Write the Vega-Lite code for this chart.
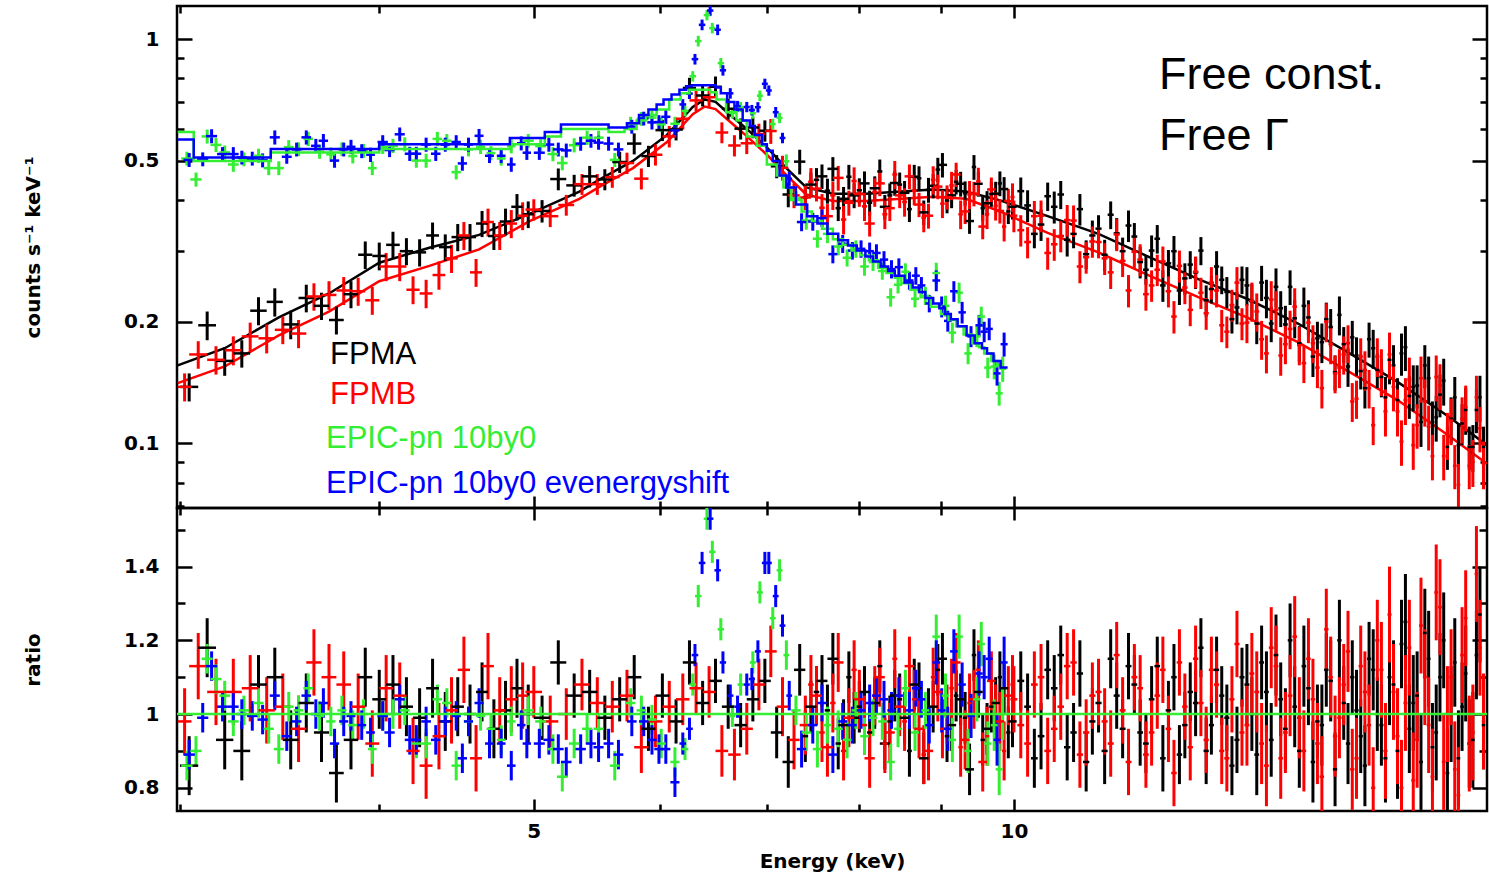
{
"$schema": "https://vega.github.io/schema/vega-lite/v6.json",
"background": "white",
"padding": {"left": 22, "top": 3, "right": 0, "bottom": 0},
"spacing": 0,
"bounds": "flush",
"config": {
  "view": {"stroke": "#000000", "strokeWidth": 2.5},
  "axis": {"domain": false, "grid": false, "labelFlush": false, "tickColor": "#000000", "tickWidth": 2.5, "labelFont": "DejaVu Sans", "labelFontWeight": "bold", "labelFontSize": 20, "labelColor": "#000000", "titleFont": "DejaVu Sans", "titleFontWeight": "bold", "titleFontSize": 20, "titleColor": "#000000"}
},
"datasets": {
"ax": [{"e": 5, "c": 0.5, "r": 1}],
"one": [{"r": 1}],
"lbl": [
 {"t": "FPMA", "s": "A", "e": 3.726, "c": 0.1654},
 {"t": "FPMB", "s": "B", "e": 3.726, "c": 0.1317},
 {"t": "EPIC-pn 10by0", "s": "G", "e": 3.704, "c": 0.1025},
 {"t": "EPIC-pn 10by0 evenergyshift", "s": "U", "e": 3.704, "c": 0.0795}
],
"lbl2": [
 {"t": "Free const.", "e": 12.33, "c": 0.816},
 {"t": "Free Γ", "e": 12.33, "c": 0.576}
],
"mdl": [
{"s":"A","e":2.99,"m":0.156},{"s":"A","e":3.2,"m":0.172},{"s":"A","e":3.46,"m":0.205},{"s":"A","e":3.72,"m":0.235},{"s":"A","e":4.0,"m":0.28},{"s":"A","e":4.3,"m":0.305},{"s":"A","e":4.62,"m":0.328},{"s":"A","e":4.97,"m":0.37},{"s":"A","e":5.34,"m":0.42},{"s":"A","e":5.5,"m":0.45},{"s":"A","e":5.77,"m":0.5},{"s":"A","e":6.06,"m":0.58},{"s":"A","e":6.29,"m":0.68},{"s":"A","e":6.4,"m":0.71},{"s":"A","e":6.5,"m":0.7},{"s":"A","e":6.61,"m":0.66},{"s":"A","e":6.8,"m":0.6},{"s":"A","e":7.0,"m":0.54},{"s":"A","e":7.2,"m":0.48},{"s":"A","e":7.41,"m":0.43},{"s":"A","e":7.7,"m":0.415},{"s":"A","e":8.08,"m":0.415},{"s":"A","e":8.5,"m":0.42},{"s":"A","e":8.9,"m":0.425},{"s":"A","e":9.33,"m":0.42},{"s":"A","e":9.79,"m":0.4},{"s":"A","e":10.5,"m":0.365},{"s":"A","e":11.3,"m":0.33},{"s":"A","e":12.14,"m":0.29},{"s":"A","e":13.05,"m":0.255},{"s":"A","e":14.0,"m":0.228},{"s":"A","e":15.07,"m":0.198},{"s":"A","e":16.2,"m":0.168},{"s":"A","e":17.4,"m":0.142},{"s":"A","e":18.7,"m":0.117},{"s":"A","e":19.8,"m":0.099},
{"s":"B","e":2.99,"m":0.141},{"s":"B","e":3.2,"m":0.155},{"s":"B","e":3.46,"m":0.185},{"s":"B","e":3.72,"m":0.212},{"s":"B","e":4.0,"m":0.252},{"s":"B","e":4.3,"m":0.275},{"s":"B","e":4.62,"m":0.302},{"s":"B","e":4.97,"m":0.355},{"s":"B","e":5.34,"m":0.403},{"s":"B","e":5.5,"m":0.432},{"s":"B","e":5.77,"m":0.48},{"s":"B","e":6.06,"m":0.557},{"s":"B","e":6.29,"m":0.653},{"s":"B","e":6.4,"m":0.682},{"s":"B","e":6.5,"m":0.672},{"s":"B","e":6.61,"m":0.634},{"s":"B","e":6.8,"m":0.576},{"s":"B","e":7.0,"m":0.518},{"s":"B","e":7.2,"m":0.461},{"s":"B","e":7.41,"m":0.413},{"s":"B","e":7.7,"m":0.398},{"s":"B","e":8.08,"m":0.398},{"s":"B","e":8.5,"m":0.403},{"s":"B","e":8.9,"m":0.408},{"s":"B","e":9.33,"m":0.403},{"s":"B","e":9.79,"m":0.376},{"s":"B","e":10.5,"m":0.332},{"s":"B","e":11.3,"m":0.297},{"s":"B","e":12.14,"m":0.261},{"s":"B","e":13.05,"m":0.23},{"s":"B","e":14.0,"m":0.205},{"s":"B","e":15.07,"m":0.178},{"s":"B","e":16.2,"m":0.151},{"s":"B","e":17.4,"m":0.128},{"s":"B","e":18.7,"m":0.105},{"s":"B","e":19.8,"m":0.089},
{"s":"G","e":2.99,"m":0.59},{"s":"G","e":3.06,"m":0.5},{"s":"G","e":3.42,"m":0.525},{"s":"G","e":4.0,"m":0.535},{"s":"G","e":4.83,"m":0.55},{"s":"G","e":5.08,"m":0.575},{"s":"G","e":5.2,"m":0.6},{"s":"G","e":5.57,"m":0.59},{"s":"G","e":5.7,"m":0.6},{"s":"G","e":5.8,"m":0.63},{"s":"G","e":5.88,"m":0.65},{"s":"G","e":5.97,"m":0.67},{"s":"G","e":6.08,"m":0.71},{"s":"G","e":6.18,"m":0.735},{"s":"G","e":6.26,"m":0.75},{"s":"G","e":6.45,"m":0.74},{"s":"G","e":6.51,"m":0.71},{"s":"G","e":6.6,"m":0.66},{"s":"G","e":6.7,"m":0.63},{"s":"G","e":6.8,"m":0.575},{"s":"G","e":6.9,"m":0.545},{"s":"G","e":7.0,"m":0.49},{"s":"G","e":7.1,"m":0.46},{"s":"G","e":7.17,"m":0.43},{"s":"G","e":7.25,"m":0.4},{"s":"G","e":7.36,"m":0.375},{"s":"G","e":7.47,"m":0.355},{"s":"G","e":7.58,"m":0.34},{"s":"G","e":7.7,"m":0.32},{"s":"G","e":7.81,"m":0.31},{"s":"G","e":7.91,"m":0.3},{"s":"G","e":8.01,"m":0.292},{"s":"G","e":8.11,"m":0.284},{"s":"G","e":8.22,"m":0.272},{"s":"G","e":8.32,"m":0.264},{"s":"G","e":8.42,"m":0.257},{"s":"G","e":8.5,"m":0.249},{"s":"G","e":8.61,"m":0.24},{"s":"G","e":8.74,"m":0.23},{"s":"G","e":8.87,"m":0.218},{"s":"G","e":9.0,"m":0.209},{"s":"G","e":9.1,"m":0.202},{"s":"G","e":9.2,"m":0.195},{"s":"G","e":9.3,"m":0.186},{"s":"G","e":9.42,"m":0.177},{"s":"G","e":9.51,"m":0.173},{"s":"G","e":9.58,"m":0.167},{"s":"G","e":9.68,"m":0.16},{"s":"G","e":9.76,"m":0.156},{"s":"G","e":9.82,"m":0.153},{"s":"G","e":9.88,"m":0.153},
{"s":"U","e":2.99,"m":0.565},{"s":"U","e":3.06,"m":0.51},{"s":"U","e":3.42,"m":0.535},{"s":"U","e":4.0,"m":0.55},{"s":"U","e":4.83,"m":0.57},{"s":"U","e":5.08,"m":0.59},{"s":"U","e":5.2,"m":0.615},{"s":"U","e":5.57,"m":0.605},{"s":"U","e":5.72,"m":0.62},{"s":"U","e":5.82,"m":0.65},{"s":"U","e":5.9,"m":0.67},{"s":"U","e":5.97,"m":0.69},{"s":"U","e":6.03,"m":0.71},{"s":"U","e":6.1,"m":0.73},{"s":"U","e":6.17,"m":0.75},{"s":"U","e":6.23,"m":0.765},{"s":"U","e":6.28,"m":0.77},{"s":"U","e":6.5,"m":0.76},{"s":"U","e":6.55,"m":0.735},{"s":"U","e":6.61,"m":0.7},{"s":"U","e":6.68,"m":0.67},{"s":"U","e":6.76,"m":0.63},{"s":"U","e":6.83,"m":0.61},{"s":"U","e":6.88,"m":0.58},{"s":"U","e":6.95,"m":0.55},{"s":"U","e":7.0,"m":0.53},{"s":"U","e":7.06,"m":0.5},{"s":"U","e":7.13,"m":0.46},{"s":"U","e":7.2,"m":0.43},{"s":"U","e":7.3,"m":0.39},{"s":"U","e":7.42,"m":0.365},{"s":"U","e":7.53,"m":0.35},{"s":"U","e":7.64,"m":0.33},{"s":"U","e":7.76,"m":0.318},{"s":"U","e":7.87,"m":0.309},{"s":"U","e":7.97,"m":0.3},{"s":"U","e":8.07,"m":0.29},{"s":"U","e":8.16,"m":0.282},{"s":"U","e":8.25,"m":0.274},{"s":"U","e":8.34,"m":0.267},{"s":"U","e":8.42,"m":0.26},{"s":"U","e":8.54,"m":0.25},{"s":"U","e":8.64,"m":0.243},{"s":"U","e":8.72,"m":0.237},{"s":"U","e":8.8,"m":0.229},{"s":"U","e":8.9,"m":0.222},{"s":"U","e":8.98,"m":0.216},{"s":"U","e":9.05,"m":0.209},{"s":"U","e":9.13,"m":0.203},{"s":"U","e":9.22,"m":0.195},{"s":"U","e":9.34,"m":0.185},{"s":"U","e":9.45,"m":0.177},{"s":"U","e":9.55,"m":0.172},{"s":"U","e":9.62,"m":0.167},{"s":"U","e":9.71,"m":0.16},{"s":"U","e":9.81,"m":0.154},{"s":"U","e":9.91,"m":0.154}
],
"pts": [
{"s":"A","e":3.04,"w":0.04,"c":0.138,"d":0.011,"r":0.86,"q":0.08},
{"s":"A","e":3.12,"w":0.04,"c":0.196,"d":0.016,"r":1.18,"q":0.08},
{"s":"A","e":3.2,"w":0.04,"c":0.16,"d":0.013,"r":0.93,"q":0.08},
{"s":"A","e":3.28,"w":0.04,"c":0.167,"d":0.013,"r":0.9,"q":0.08},
{"s":"A","e":3.36,"w":0.04,"c":0.213,"d":0.017,"r":1.08,"q":0.08},
{"s":"A","e":3.44,"w":0.04,"c":0.224,"d":0.018,"r":1.1,"q":0.08},
{"s":"A","e":3.52,"w":0.04,"c":0.197,"d":0.016,"r":0.93,"q":0.08},
{"s":"A","e":3.6,"w":0.04,"c":0.229,"d":0.018,"r":1.03,"q":0.08},
{"s":"A","e":3.68,"w":0.04,"c":0.219,"d":0.017,"r":0.95,"q":0.08},
{"s":"A","e":3.76,"w":0.04,"c":0.202,"d":0.016,"r":0.84,"q":0.08},
{"s":"A","e":3.84,"w":0.04,"c":0.234,"d":0.018,"r":0.93,"q":0.08},
{"s":"A","e":3.92,"w":0.04,"c":0.293,"d":0.023,"r":1.1,"q":0.08},
{"s":"A","e":4.0,"w":0.04,"c":0.291,"d":0.023,"r":1.04,"q":0.08},
{"s":"A","e":4.08,"w":0.04,"c":0.31,"d":0.024,"r":1.08,"q":0.08},
{"s":"A","e":4.16,"w":0.04,"c":0.299,"d":0.023,"r":1.02,"q":0.08},
{"s":"A","e":4.24,"w":0.04,"c":0.297,"d":0.023,"r":0.99,"q":0.08},
{"s":"A","e":4.32,"w":0.04,"c":0.327,"d":0.025,"r":1.07,"q":0.08},
{"s":"A","e":4.4,"w":0.04,"c":0.306,"d":0.023,"r":0.98,"q":0.08},
{"s":"A","e":4.48,"w":0.04,"c":0.324,"d":0.025,"r":1.02,"q":0.08},
{"s":"A","e":4.56,"w":0.04,"c":0.324,"d":0.025,"r":1.0,"q":0.08},
{"s":"A","e":4.64,"w":0.04,"c":0.35,"d":0.026,"r":1.06,"q":0.08},
{"s":"A","e":4.72,"w":0.04,"c":0.326,"d":0.025,"r":0.96,"q":0.08},
{"s":"A","e":4.8,"w":0.04,"c":0.354,"d":0.027,"r":1.01,"q":0.08},
{"s":"A","e":4.88,"w":0.04,"c":0.385,"d":0.029,"r":1.07,"q":0.08},
{"s":"A","e":4.96,"w":0.04,"c":0.369,"d":0.028,"r":1.0,"q":0.08},
{"s":"A","e":5.06,"w":0.06,"c":0.376,"d":0.024,"r":0.99,"q":0.06},
{"s":"A","e":5.18,"w":0.06,"c":0.451,"d":0.028,"r":1.14,"q":0.06},
{"s":"A","e":5.3,"w":0.06,"c":0.435,"d":0.027,"r":1.05,"q":0.06},
{"s":"A","e":5.42,"w":0.06,"c":0.458,"d":0.028,"r":1.06,"q":0.06},
{"s":"A","e":5.54,"w":0.06,"c":0.45,"d":0.027,"r":0.99,"q":0.06},
{"s":"A","e":5.66,"w":0.06,"c":0.497,"d":0.03,"r":1.04,"q":0.06},
{"s":"A","e":5.78,"w":0.06,"c":0.552,"d":0.033,"r":1.1,"q":0.06},
{"s":"A","e":5.9,"w":0.06,"c":0.514,"d":0.031,"r":0.96,"q":0.06},
{"s":"A","e":6.02,"w":0.06,"c":0.596,"d":0.036,"r":1.05,"q":0.06},
{"s":"A","e":6.14,"w":0.06,"c":0.598,"d":0.036,"r":0.98,"q":0.06},
{"s":"A","e":6.26,"w":0.06,"c":0.758,"d":0.045,"r":1.14,"q":0.06},
{"s":"A","e":6.38,"w":0.06,"c":0.726,"d":0.044,"r":1.03,"q":0.06},
{"s":"A","e":6.5,"w":0.06,"c":0.763,"d":0.046,"r":1.09,"q":0.06},
{"s":"A","e":6.62,"w":0.06,"c":0.673,"d":0.04,"r":1.02,"q":0.06},
{"s":"A","e":6.74,"w":0.06,"c":0.601,"d":0.036,"r":0.97,"q":0.06},
{"s":"A","e":6.86,"w":0.06,"c":0.605,"d":0.036,"r":1.04,"q":0.06},
{"s":"A","e":6.98,"w":0.06,"c":0.594,"d":0.036,"r":1.09,"q":0.06},
{"s":"A","e":7.1,"w":0.06,"c":0.485,"d":0.032,"r":0.95,"q":0.07},
{"s":"A","e":7.22,"w":0.06,"c":0.413,"d":0.029,"r":0.87,"q":0.07},
{"s":"A","e":7.34,"w":0.06,"c":0.498,"d":0.035,"r":1.12,"q":0.07},
{"s":"A","e":7.46,"w":0.06,"c":0.437,"d":0.031,"r":1.02,"q":0.07},
{"s":"A","e":7.58,"w":0.06,"c":0.458,"d":0.032,"r":1.09,"q":0.07},
{"s":"A","e":7.7,"w":0.06,"c":0.478,"d":0.033,"r":1.15,"q":0.07},
{"s":"A","e":7.82,"w":0.06,"c":0.403,"d":0.028,"r":0.97,"q":0.07},
{"s":"A","e":7.94,"w":0.06,"c":0.411,"d":0.029,"r":0.99,"q":0.07},
{"s":"A","e":8.06,"w":0.06,"c":0.44,"d":0.031,"r":1.06,"q":0.07},
{"s":"A","e":8.18,"w":0.06,"c":0.428,"d":0.03,"r":1.03,"q":0.07},
{"s":"A","e":8.3,"w":0.06,"c":0.385,"d":0.027,"r":0.92,"q":0.07},
{"s":"A","e":8.42,"w":0.06,"c":0.441,"d":0.031,"r":1.05,"q":0.07},
{"s":"A","e":8.54,"w":0.06,"c":0.417,"d":0.029,"r":0.99,"q":0.07},
{"s":"A","e":8.66,"w":0.06,"c":0.457,"d":0.032,"r":1.08,"q":0.07},
{"s":"A","e":8.78,"w":0.06,"c":0.373,"d":0.026,"r":0.88,"q":0.07},
{"s":"A","e":8.9,"w":0.06,"c":0.434,"d":0.03,"r":1.02,"q":0.07},
{"s":"A","e":9.02,"w":0.06,"c":0.489,"d":0.034,"r":1.15,"q":0.07},
{"s":"A","e":9.14,"w":0.06,"c":0.411,"d":0.029,"r":0.97,"q":0.07},
{"s":"A","e":9.26,"w":0.06,"c":0.439,"d":0.031,"r":1.04,"q":0.07},
{"s":"A","e":9.38,"w":0.06,"c":0.355,"d":0.025,"r":0.85,"q":0.07},
{"s":"A","e":9.5,"w":0.06,"c":0.439,"d":0.031,"r":1.06,"q":0.07},
{"s":"A","e":9.62,"w":0.06,"c":0.393,"d":0.028,"r":0.96,"q":0.07},
{"s":"A","e":9.74,"w":0.06,"c":0.415,"d":0.029,"r":1.03,"q":0.07},
{"s":"A","e":9.86,"w":0.06,"c":0.426,"d":0.03,"r":1.07,"q":0.07},
{"s":"A","e":9.98,"w":0.06,"c":0.385,"d":0.027,"r":0.98,"q":0.07},
{"s":"A","e":7.4,"w":0.03,"c":0.406,"d":0.028,"r":0.94,"q":0.07},
{"s":"A","e":7.52,"w":0.03,"c":0.449,"d":0.031,"r":1.06,"q":0.07},
{"s":"A","e":7.64,"w":0.03,"c":0.422,"d":0.03,"r":1.01,"q":0.07},
{"s":"A","e":7.76,"w":0.03,"c":0.382,"d":0.027,"r":0.92,"q":0.07},
{"s":"A","e":7.88,"w":0.03,"c":0.457,"d":0.032,"r":1.1,"q":0.07},
{"s":"A","e":8.0,"w":0.03,"c":0.423,"d":0.03,"r":1.02,"q":0.07},
{"s":"A","e":8.12,"w":0.03,"c":0.394,"d":0.028,"r":0.95,"q":0.07},
{"s":"A","e":8.24,"w":0.03,"c":0.471,"d":0.033,"r":1.13,"q":0.07},
{"s":"A","e":8.36,"w":0.03,"c":0.411,"d":0.029,"r":0.98,"q":0.07},
{"s":"A","e":8.48,"w":0.03,"c":0.437,"d":0.031,"r":1.04,"q":0.07},
{"s":"A","e":8.6,"w":0.03,"c":0.38,"d":0.027,"r":0.9,"q":0.07},
{"s":"A","e":8.72,"w":0.03,"c":0.453,"d":0.032,"r":1.07,"q":0.07},
{"s":"A","e":8.84,"w":0.03,"c":0.424,"d":0.03,"r":1.0,"q":0.07},
{"s":"A","e":8.96,"w":0.03,"c":0.476,"d":0.033,"r":1.12,"q":0.07},
{"s":"A","e":9.08,"w":0.03,"c":0.399,"d":0.028,"r":0.94,"q":0.07},
{"s":"A","e":9.2,"w":0.03,"c":0.444,"d":0.031,"r":1.05,"q":0.07},
{"s":"A","e":9.32,"w":0.03,"c":0.416,"d":0.029,"r":0.99,"q":0.07},
{"s":"A","e":9.44,"w":0.03,"c":0.483,"d":0.034,"r":1.16,"q":0.07},
{"s":"A","e":9.56,"w":0.03,"c":0.382,"d":0.027,"r":0.93,"q":0.07},
{"s":"A","e":9.68,"w":0.03,"c":0.414,"d":0.029,"r":1.02,"q":0.07},
{"s":"A","e":9.8,"w":0.03,"c":0.44,"d":0.031,"r":1.1,"q":0.07},
{"s":"A","e":9.92,"w":0.03,"c":0.375,"d":0.026,"r":0.95,"q":0.07},
{"s":"A","e":10.1,"w":0.05,"c":0.421,"d":0.034,"r":1.09,"q":0.08},
{"s":"A","e":10.3,"w":0.05,"c":0.33,"d":0.026,"r":0.88,"q":0.08},
{"s":"A","e":10.5,"w":0.05,"c":0.409,"d":0.033,"r":1.12,"q":0.08},
{"s":"A","e":10.7,"w":0.05,"c":0.413,"d":0.033,"r":1.16,"q":0.08},
{"s":"A","e":10.9,"w":0.05,"c":0.33,"d":0.026,"r":0.95,"q":0.08},
{"s":"A","e":11.1,"w":0.05,"c":0.294,"d":0.024,"r":0.87,"q":0.08},
{"s":"A","e":11.3,"w":0.05,"c":0.34,"d":0.027,"r":1.03,"q":0.08},
{"s":"A","e":11.5,"w":0.05,"c":0.368,"d":0.029,"r":1.15,"q":0.08},
{"s":"A","e":11.7,"w":0.05,"c":0.299,"d":0.024,"r":0.96,"q":0.08},
{"s":"A","e":11.9,"w":0.05,"c":0.325,"d":0.026,"r":1.08,"q":0.08},
{"s":"A","e":12.1,"w":0.05,"c":0.269,"d":0.022,"r":0.92,"q":0.08},
{"s":"A","e":12.3,"w":0.05,"c":0.321,"d":0.026,"r":1.13,"q":0.08},
{"s":"A","e":12.5,"w":0.05,"c":0.279,"d":0.022,"r":1.01,"q":0.08},
{"s":"A","e":12.7,"w":0.05,"c":0.239,"d":0.019,"r":0.89,"q":0.08},
{"s":"A","e":12.9,"w":0.05,"c":0.277,"d":0.022,"r":1.06,"q":0.08},
{"s":"A","e":13.1,"w":0.05,"c":0.3,"d":0.024,"r":1.18,"q":0.08},
{"s":"A","e":13.3,"w":0.05,"c":0.241,"d":0.019,"r":0.97,"q":0.08},
{"s":"A","e":13.5,"w":0.05,"c":0.254,"d":0.02,"r":1.05,"q":0.08},
{"s":"A","e":13.7,"w":0.05,"c":0.203,"d":0.016,"r":0.86,"q":0.08},
{"s":"A","e":13.9,"w":0.05,"c":0.254,"d":0.02,"r":1.1,"q":0.08},
{"s":"A","e":14.1,"w":0.05,"c":0.225,"d":0.023,"r":1.0,"q":0.1},
{"s":"A","e":14.3,"w":0.05,"c":0.25,"d":0.025,"r":1.14,"q":0.1},
{"s":"A","e":14.5,"w":0.05,"c":0.198,"d":0.02,"r":0.93,"q":0.1},
{"s":"A","e":14.7,"w":0.05,"c":0.216,"d":0.022,"r":1.04,"q":0.1},
{"s":"A","e":14.9,"w":0.05,"c":0.244,"d":0.024,"r":1.2,"q":0.1},
{"s":"A","e":15.1,"w":0.05,"c":0.177,"d":0.018,"r":0.9,"q":0.1},
{"s":"A","e":15.3,"w":0.05,"c":0.205,"d":0.021,"r":1.07,"q":0.1},
{"s":"A","e":15.5,"w":0.05,"c":0.182,"d":0.018,"r":0.98,"q":0.1},
{"s":"A","e":15.7,"w":0.05,"c":0.203,"d":0.02,"r":1.12,"q":0.1},
{"s":"A","e":15.9,"w":0.05,"c":0.15,"d":0.015,"r":0.85,"q":0.1},
{"s":"A","e":16.1,"w":0.05,"c":0.176,"d":0.018,"r":1.03,"q":0.1},
{"s":"A","e":16.3,"w":0.05,"c":0.183,"d":0.018,"r":1.1,"q":0.1},
{"s":"A","e":16.5,"w":0.05,"c":0.151,"d":0.015,"r":0.94,"q":0.1},
{"s":"A","e":16.7,"w":0.05,"c":0.181,"d":0.018,"r":1.15,"q":0.1},
{"s":"A","e":16.9,"w":0.05,"c":0.152,"d":0.015,"r":1.0,"q":0.1},
{"s":"A","e":17.1,"w":0.05,"c":0.13,"d":0.016,"r":0.88,"q":0.12},
{"s":"A","e":17.3,"w":0.05,"c":0.156,"d":0.019,"r":1.08,"q":0.12},
{"s":"A","e":17.5,"w":0.05,"c":0.167,"d":0.02,"r":1.19,"q":0.12},
{"s":"A","e":17.7,"w":0.05,"c":0.131,"d":0.016,"r":0.96,"q":0.12},
{"s":"A","e":17.9,"w":0.05,"c":0.139,"d":0.017,"r":1.05,"q":0.12},
{"s":"A","e":18.1,"w":0.05,"c":0.156,"d":0.019,"r":1.22,"q":0.12},
{"s":"A","e":18.3,"w":0.05,"c":0.113,"d":0.014,"r":0.91,"q":0.12},
{"s":"A","e":18.5,"w":0.05,"c":0.132,"d":0.016,"r":1.1,"q":0.12},
{"s":"A","e":18.7,"w":0.05,"c":0.098,"d":0.012,"r":0.84,"q":0.12},
{"s":"A","e":18.9,"w":0.05,"c":0.13,"d":0.016,"r":1.14,"q":0.12},
{"s":"A","e":19.1,"w":0.05,"c":0.112,"d":0.013,"r":1.02,"q":0.12},
{"s":"A","e":19.3,"w":0.05,"c":0.098,"d":0.012,"r":0.92,"q":0.12},
{"s":"A","e":19.5,"w":0.05,"c":0.121,"d":0.015,"r":1.16,"q":0.12},
{"s":"A","e":19.7,"w":0.05,"c":0.098,"d":0.012,"r":0.97,"q":0.12},
{"s":"A","e":10.2,"w":0.05,"c":0.388,"d":0.035,"r":1.02,"q":0.09},
{"s":"A","e":10.4,"w":0.05,"c":0.348,"d":0.031,"r":0.94,"q":0.09},
{"s":"A","e":10.6,"w":0.05,"c":0.385,"d":0.035,"r":1.07,"q":0.09},
{"s":"A","e":10.8,"w":0.05,"c":0.319,"d":0.029,"r":0.91,"q":0.09},
{"s":"A","e":11.0,"w":0.05,"c":0.38,"d":0.034,"r":1.11,"q":0.09},
{"s":"A","e":11.2,"w":0.05,"c":0.327,"d":0.029,"r":0.98,"q":0.09},
{"s":"A","e":11.4,"w":0.05,"c":0.293,"d":0.026,"r":0.9,"q":0.09},
{"s":"A","e":11.6,"w":0.05,"c":0.331,"d":0.03,"r":1.05,"q":0.09},
{"s":"A","e":11.8,"w":0.05,"c":0.346,"d":0.031,"r":1.13,"q":0.09},
{"s":"A","e":12.0,"w":0.05,"c":0.281,"d":0.025,"r":0.95,"q":0.09},
{"s":"A","e":12.2,"w":0.05,"c":0.3,"d":0.027,"r":1.04,"q":0.09},
{"s":"A","e":12.4,"w":0.05,"c":0.246,"d":0.022,"r":0.88,"q":0.09},
{"s":"A","e":12.6,"w":0.05,"c":0.299,"d":0.027,"r":1.1,"q":0.09},
{"s":"A","e":12.8,"w":0.05,"c":0.256,"d":0.023,"r":0.97,"q":0.09},
{"s":"A","e":13.0,"w":0.05,"c":0.265,"d":0.024,"r":1.03,"q":0.09},
{"s":"A","e":13.2,"w":0.05,"c":0.226,"d":0.02,"r":0.9,"q":0.09},
{"s":"A","e":13.4,"w":0.05,"c":0.274,"d":0.025,"r":1.12,"q":0.09},
{"s":"A","e":13.6,"w":0.05,"c":0.237,"d":0.021,"r":0.99,"q":0.09},
{"s":"A","e":13.8,"w":0.05,"c":0.217,"d":0.02,"r":0.93,"q":0.09},
{"s":"A","e":14.0,"w":0.05,"c":0.246,"d":0.027,"r":1.08,"q":0.11},
{"s":"A","e":14.2,"w":0.05,"c":0.198,"d":0.022,"r":0.89,"q":0.11},
{"s":"A","e":14.4,"w":0.05,"c":0.229,"d":0.025,"r":1.06,"q":0.11},
{"s":"A","e":14.6,"w":0.05,"c":0.244,"d":0.027,"r":1.16,"q":0.11},
{"s":"A","e":14.8,"w":0.05,"c":0.197,"d":0.022,"r":0.96,"q":0.11},
{"s":"A","e":15.0,"w":0.05,"c":0.204,"d":0.022,"r":1.02,"q":0.11},
{"s":"A","e":15.2,"w":0.05,"c":0.219,"d":0.024,"r":1.13,"q":0.11},
{"s":"A","e":15.4,"w":0.05,"c":0.164,"d":0.018,"r":0.87,"q":0.11},
{"s":"A","e":15.6,"w":0.05,"c":0.178,"d":0.02,"r":0.97,"q":0.11},
{"s":"A","e":15.8,"w":0.05,"c":0.194,"d":0.021,"r":1.09,"q":0.11},
{"s":"A","e":16.0,"w":0.05,"c":0.208,"d":0.023,"r":1.2,"q":0.11},
{"s":"A","e":16.2,"w":0.05,"c":0.155,"d":0.017,"r":0.92,"q":0.11},
{"s":"A","e":16.4,"w":0.05,"c":0.165,"d":0.018,"r":1.01,"q":0.11},
{"s":"A","e":16.6,"w":0.05,"c":0.137,"d":0.015,"r":0.86,"q":0.11},
{"s":"A","e":16.8,"w":0.05,"c":0.172,"d":0.019,"r":1.12,"q":0.11},
{"s":"A","e":17.0,"w":0.05,"c":0.146,"d":0.016,"r":0.97,"q":0.11},
{"s":"A","e":17.2,"w":0.05,"c":0.161,"d":0.021,"r":1.1,"q":0.13},
{"s":"A","e":17.4,"w":0.05,"c":0.128,"d":0.017,"r":0.9,"q":0.13},
{"s":"A","e":17.6,"w":0.05,"c":0.173,"d":0.022,"r":1.25,"q":0.13},
{"s":"A","e":17.8,"w":0.05,"c":0.138,"d":0.018,"r":1.03,"q":0.13},
{"s":"A","e":18.0,"w":0.05,"c":0.113,"d":0.015,"r":0.87,"q":0.13},
{"s":"A","e":18.2,"w":0.05,"c":0.145,"d":0.019,"r":1.15,"q":0.13},
{"s":"A","e":18.4,"w":0.05,"c":0.116,"d":0.015,"r":0.95,"q":0.13},
{"s":"A","e":18.6,"w":0.05,"c":0.143,"d":0.019,"r":1.2,"q":0.13},
{"s":"A","e":18.8,"w":0.05,"c":0.115,"d":0.015,"r":1.0,"q":0.13},
{"s":"A","e":19.0,"w":0.05,"c":0.099,"d":0.013,"r":0.88,"q":0.13},
{"s":"A","e":19.2,"w":0.05,"c":0.121,"d":0.016,"r":1.11,"q":0.13},
{"s":"A","e":19.4,"w":0.05,"c":0.098,"d":0.013,"r":0.93,"q":0.13},
{"s":"A","e":19.6,"w":0.05,"c":0.13,"d":0.017,"r":1.27,"q":0.13},
{"s":"B","e":3.02,"w":0.03,"c":0.138,"d":0.011,"r":0.98,"q":0.09},
{"s":"B","e":3.08,"w":0.04,"c":0.166,"d":0.013,"r":1.13,"q":0.09},
{"s":"B","e":3.16,"w":0.04,"c":0.161,"d":0.013,"r":1.06,"q":0.09},
{"s":"B","e":3.24,"w":0.04,"c":0.17,"d":0.014,"r":1.06,"q":0.09},
{"s":"B","e":3.32,"w":0.04,"c":0.184,"d":0.015,"r":1.07,"q":0.09},
{"s":"B","e":3.4,"w":0.04,"c":0.182,"d":0.015,"r":1.01,"q":0.09},
{"s":"B","e":3.48,"w":0.04,"c":0.191,"d":0.015,"r":1.02,"q":0.09},
{"s":"B","e":3.56,"w":0.04,"c":0.187,"d":0.015,"r":0.96,"q":0.09},
{"s":"B","e":3.64,"w":0.04,"c":0.231,"d":0.018,"r":1.14,"q":0.09},
{"s":"B","e":3.72,"w":0.04,"c":0.233,"d":0.019,"r":1.1,"q":0.09},
{"s":"B","e":3.8,"w":0.04,"c":0.239,"d":0.019,"r":1.08,"q":0.09},
{"s":"B","e":3.88,"w":0.04,"c":0.238,"d":0.019,"r":1.02,"q":0.09},
{"s":"B","e":3.96,"w":0.04,"c":0.226,"d":0.018,"r":0.92,"q":0.09},
{"s":"B","e":4.04,"w":0.04,"c":0.274,"d":0.022,"r":1.07,"q":0.09},
{"s":"B","e":4.12,"w":0.04,"c":0.274,"d":0.022,"r":1.05,"q":0.09},
{"s":"B","e":4.2,"w":0.04,"c":0.24,"d":0.019,"r":0.9,"q":0.09},
{"s":"B","e":4.28,"w":0.04,"c":0.235,"d":0.019,"r":0.86,"q":0.09},
{"s":"B","e":4.36,"w":0.04,"c":0.261,"d":0.021,"r":0.94,"q":0.09},
{"s":"B","e":4.44,"w":0.04,"c":0.287,"d":0.023,"r":1.01,"q":0.09},
{"s":"B","e":4.52,"w":0.04,"c":0.327,"d":0.026,"r":1.12,"q":0.09},
{"s":"B","e":4.6,"w":0.04,"c":0.265,"d":0.021,"r":0.88,"q":0.09},
{"s":"B","e":4.68,"w":0.04,"c":0.353,"d":0.028,"r":1.13,"q":0.09},
{"s":"B","e":4.76,"w":0.04,"c":0.327,"d":0.026,"r":1.01,"q":0.09},
{"s":"B","e":4.84,"w":0.04,"c":0.35,"d":0.028,"r":1.04,"q":0.09},
{"s":"B","e":4.92,"w":0.04,"c":0.366,"d":0.029,"r":1.05,"q":0.09},
{"s":"B","e":5.0,"w":0.06,"c":0.379,"d":0.023,"r":1.06,"q":0.07},
{"s":"B","e":5.12,"w":0.06,"c":0.365,"d":0.022,"r":0.98,"q":0.07},
{"s":"B","e":5.24,"w":0.06,"c":0.389,"d":0.023,"r":1.0,"q":0.07},
{"s":"B","e":5.36,"w":0.06,"c":0.438,"d":0.026,"r":1.08,"q":0.07},
{"s":"B","e":5.48,"w":0.06,"c":0.438,"d":0.026,"r":1.03,"q":0.07},
{"s":"B","e":5.6,"w":0.06,"c":0.456,"d":0.027,"r":1.02,"q":0.07},
{"s":"B","e":5.72,"w":0.06,"c":0.494,"d":0.03,"r":1.05,"q":0.07},
{"s":"B","e":5.84,"w":0.06,"c":0.452,"d":0.027,"r":0.91,"q":0.07},
{"s":"B","e":5.96,"w":0.06,"c":0.518,"d":0.031,"r":0.98,"q":0.07},
{"s":"B","e":6.08,"w":0.06,"c":0.575,"d":0.035,"r":1.02,"q":0.07},
{"s":"B","e":6.2,"w":0.06,"c":0.636,"d":0.038,"r":1.04,"q":0.07},
{"s":"B","e":6.32,"w":0.06,"c":0.706,"d":0.042,"r":1.07,"q":0.07},
{"s":"B","e":6.44,"w":0.06,"c":0.719,"d":0.043,"r":1.06,"q":0.07},
{"s":"B","e":6.56,"w":0.06,"c":0.588,"d":0.035,"r":0.9,"q":0.07},
{"s":"B","e":6.68,"w":0.06,"c":0.546,"d":0.033,"r":0.89,"q":0.07},
{"s":"B","e":6.8,"w":0.06,"c":0.553,"d":0.033,"r":0.96,"q":0.07},
{"s":"B","e":6.92,"w":0.06,"c":0.583,"d":0.035,"r":1.08,"q":0.07},
{"s":"B","e":7.04,"w":0.06,"c":0.593,"d":0.042,"r":1.17,"q":0.07},
{"s":"B","e":7.16,"w":0.06,"c":0.481,"d":0.034,"r":1.02,"q":0.08},
{"s":"B","e":7.28,"w":0.06,"c":0.411,"d":0.029,"r":0.93,"q":0.08},
{"s":"B","e":7.4,"w":0.06,"c":0.406,"d":0.028,"r":0.97,"q":0.08},
{"s":"B","e":7.52,"w":0.06,"c":0.427,"d":0.03,"r":1.05,"q":0.08},
{"s":"B","e":7.64,"w":0.06,"c":0.365,"d":0.026,"r":0.91,"q":0.08},
{"s":"B","e":7.76,"w":0.06,"c":0.454,"d":0.032,"r":1.14,"q":0.08},
{"s":"B","e":7.88,"w":0.06,"c":0.394,"d":0.028,"r":0.99,"q":0.08},
{"s":"B","e":8.0,"w":0.06,"c":0.414,"d":0.029,"r":1.04,"q":0.08},
{"s":"B","e":8.12,"w":0.06,"c":0.35,"d":0.025,"r":0.88,"q":0.08},
{"s":"B","e":8.24,"w":0.06,"c":0.44,"d":0.031,"r":1.1,"q":0.08},
{"s":"B","e":8.36,"w":0.06,"c":0.382,"d":0.027,"r":0.95,"q":0.08},
{"s":"B","e":8.48,"w":0.06,"c":0.411,"d":0.029,"r":1.02,"q":0.08},
{"s":"B","e":8.6,"w":0.06,"c":0.458,"d":0.032,"r":1.13,"q":0.08},
{"s":"B","e":8.72,"w":0.06,"c":0.39,"d":0.027,"r":0.96,"q":0.08},
{"s":"B","e":8.84,"w":0.06,"c":0.366,"d":0.026,"r":0.9,"q":0.08},
{"s":"B","e":8.96,"w":0.06,"c":0.432,"d":0.03,"r":1.06,"q":0.08},
{"s":"B","e":9.08,"w":0.06,"c":0.407,"d":0.028,"r":1.0,"q":0.08},
{"s":"B","e":9.2,"w":0.06,"c":0.463,"d":0.032,"r":1.14,"q":0.08},
{"s":"B","e":9.32,"w":0.06,"c":0.375,"d":0.026,"r":0.93,"q":0.08},
{"s":"B","e":9.44,"w":0.06,"c":0.415,"d":0.029,"r":1.04,"q":0.08},
{"s":"B","e":9.56,"w":0.06,"c":0.344,"d":0.024,"r":0.87,"q":0.08},
{"s":"B","e":9.68,"w":0.06,"c":0.425,"d":0.03,"r":1.09,"q":0.08},
{"s":"B","e":9.8,"w":0.06,"c":0.376,"d":0.026,"r":0.98,"q":0.08},
{"s":"B","e":9.92,"w":0.06,"c":0.398,"d":0.028,"r":1.05,"q":0.08},
{"s":"B","e":7.46,"w":0.03,"c":0.444,"d":0.036,"r":1.08,"q":0.08},
{"s":"B","e":7.58,"w":0.03,"c":0.383,"d":0.031,"r":0.95,"q":0.08},
{"s":"B","e":7.7,"w":0.03,"c":0.411,"d":0.033,"r":1.03,"q":0.08},
{"s":"B","e":7.82,"w":0.03,"c":0.358,"d":0.029,"r":0.9,"q":0.08},
{"s":"B","e":7.94,"w":0.03,"c":0.446,"d":0.036,"r":1.12,"q":0.08},
{"s":"B","e":8.06,"w":0.03,"c":0.386,"d":0.031,"r":0.97,"q":0.08},
{"s":"B","e":8.18,"w":0.03,"c":0.419,"d":0.034,"r":1.05,"q":0.08},
{"s":"B","e":8.3,"w":0.03,"c":0.369,"d":0.03,"r":0.92,"q":0.08},
{"s":"B","e":8.42,"w":0.03,"c":0.463,"d":0.037,"r":1.15,"q":0.08},
{"s":"B","e":8.54,"w":0.03,"c":0.396,"d":0.032,"r":0.98,"q":0.08},
{"s":"B","e":8.66,"w":0.03,"c":0.422,"d":0.034,"r":1.04,"q":0.08},
{"s":"B","e":8.78,"w":0.03,"c":0.362,"d":0.029,"r":0.89,"q":0.08},
{"s":"B","e":8.9,"w":0.03,"c":0.449,"d":0.036,"r":1.1,"q":0.08},
{"s":"B","e":9.02,"w":0.03,"c":0.392,"d":0.031,"r":0.96,"q":0.08},
{"s":"B","e":9.14,"w":0.03,"c":0.435,"d":0.035,"r":1.07,"q":0.08},
{"s":"B","e":9.26,"w":0.03,"c":0.369,"d":0.03,"r":0.91,"q":0.08},
{"s":"B","e":9.38,"w":0.03,"c":0.413,"d":0.033,"r":1.03,"q":0.08},
{"s":"B","e":9.5,"w":0.03,"c":0.445,"d":0.036,"r":1.12,"q":0.08},
{"s":"B","e":9.62,"w":0.03,"c":0.369,"d":0.03,"r":0.94,"q":0.08},
{"s":"B","e":9.74,"w":0.03,"c":0.387,"d":0.031,"r":1.0,"q":0.08},
{"s":"B","e":9.86,"w":0.03,"c":0.344,"d":0.028,"r":0.9,"q":0.08},
{"s":"B","e":9.98,"w":0.03,"c":0.407,"d":0.033,"r":1.08,"q":0.08},
{"s":"B","e":10.0,"w":0.05,"c":0.366,"d":0.033,"r":1.04,"q":0.09},
{"s":"B","e":10.2,"w":0.05,"c":0.315,"d":0.028,"r":0.92,"q":0.09},
{"s":"B","e":10.4,"w":0.05,"c":0.366,"d":0.033,"r":1.1,"q":0.09},
{"s":"B","e":10.6,"w":0.05,"c":0.311,"d":0.028,"r":0.96,"q":0.09},
{"s":"B","e":10.8,"w":0.05,"c":0.357,"d":0.032,"r":1.13,"q":0.09},
{"s":"B","e":11.0,"w":0.05,"c":0.274,"d":0.025,"r":0.89,"q":0.09},
{"s":"B","e":11.2,"w":0.05,"c":0.316,"d":0.028,"r":1.05,"q":0.09},
{"s":"B","e":11.4,"w":0.05,"c":0.287,"d":0.026,"r":0.98,"q":0.09},
{"s":"B","e":11.6,"w":0.05,"c":0.329,"d":0.03,"r":1.16,"q":0.09},
{"s":"B","e":11.8,"w":0.05,"c":0.239,"d":0.022,"r":0.87,"q":0.09},
{"s":"B","e":12.0,"w":0.05,"c":0.285,"d":0.026,"r":1.07,"q":0.09},
{"s":"B","e":12.2,"w":0.05,"c":0.246,"d":0.022,"r":0.95,"q":0.09},
{"s":"B","e":12.4,"w":0.05,"c":0.282,"d":0.025,"r":1.12,"q":0.09},
{"s":"B","e":12.6,"w":0.05,"c":0.206,"d":0.019,"r":0.84,"q":0.09},
{"s":"B","e":12.8,"w":0.05,"c":0.243,"d":0.022,"r":1.02,"q":0.09},
{"s":"B","e":13.0,"w":0.05,"c":0.266,"d":0.024,"r":1.15,"q":0.09},
{"s":"B","e":13.2,"w":0.05,"c":0.21,"d":0.019,"r":0.93,"q":0.09},
{"s":"B","e":13.4,"w":0.05,"c":0.239,"d":0.022,"r":1.08,"q":0.09},
{"s":"B","e":13.6,"w":0.05,"c":0.189,"d":0.017,"r":0.88,"q":0.09},
{"s":"B","e":13.8,"w":0.05,"c":0.25,"d":0.023,"r":1.19,"q":0.09},
{"s":"B","e":14.0,"w":0.05,"c":0.199,"d":0.022,"r":0.97,"q":0.11},
{"s":"B","e":14.2,"w":0.05,"c":0.212,"d":0.023,"r":1.06,"q":0.11},
{"s":"B","e":14.4,"w":0.05,"c":0.167,"d":0.018,"r":0.86,"q":0.11},
{"s":"B","e":14.6,"w":0.05,"c":0.214,"d":0.024,"r":1.13,"q":0.11},
{"s":"B","e":14.8,"w":0.05,"c":0.176,"d":0.019,"r":0.95,"q":0.11},
{"s":"B","e":15.0,"w":0.05,"c":0.218,"d":0.024,"r":1.21,"q":0.11},
{"s":"B","e":15.2,"w":0.05,"c":0.158,"d":0.017,"r":0.9,"q":0.11},
{"s":"B","e":15.4,"w":0.05,"c":0.177,"d":0.019,"r":1.04,"q":0.11},
{"s":"B","e":15.6,"w":0.05,"c":0.137,"d":0.015,"r":0.83,"q":0.11},
{"s":"B","e":15.8,"w":0.05,"c":0.176,"d":0.019,"r":1.1,"q":0.11},
{"s":"B","e":16.0,"w":0.05,"c":0.154,"d":0.017,"r":0.99,"q":0.11},
{"s":"B","e":16.2,"w":0.05,"c":0.177,"d":0.019,"r":1.17,"q":0.11},
{"s":"B","e":16.4,"w":0.05,"c":0.129,"d":0.014,"r":0.88,"q":0.11},
{"s":"B","e":16.6,"w":0.05,"c":0.152,"d":0.017,"r":1.06,"q":0.11},
{"s":"B","e":16.8,"w":0.05,"c":0.111,"d":0.012,"r":0.8,"q":0.11},
{"s":"B","e":17.0,"w":0.05,"c":0.151,"d":0.02,"r":1.12,"q":0.13},
{"s":"B","e":17.2,"w":0.05,"c":0.166,"d":0.022,"r":1.27,"q":0.13},
{"s":"B","e":17.4,"w":0.05,"c":0.12,"d":0.016,"r":0.94,"q":0.13},
{"s":"B","e":17.6,"w":0.05,"c":0.128,"d":0.017,"r":1.03,"q":0.13},
{"s":"B","e":17.8,"w":0.05,"c":0.099,"d":0.013,"r":0.82,"q":0.13},
{"s":"B","e":18.0,"w":0.05,"c":0.145,"d":0.019,"r":1.24,"q":0.13},
{"s":"B","e":18.2,"w":0.05,"c":0.11,"d":0.014,"r":0.97,"q":0.13},
{"s":"B","e":18.4,"w":0.05,"c":0.146,"d":0.019,"r":1.33,"q":0.13},
{"s":"B","e":18.6,"w":0.05,"c":0.093,"d":0.012,"r":0.87,"q":0.13},
{"s":"B","e":18.8,"w":0.05,"c":0.114,"d":0.015,"r":1.1,"q":0.13},
{"s":"B","e":19.0,"w":0.05,"c":0.079,"d":0.01,"r":0.78,"q":0.13},
{"s":"B","e":19.2,"w":0.05,"c":0.123,"d":0.016,"r":1.26,"q":0.13},
{"s":"B","e":19.4,"w":0.05,"c":0.09,"d":0.012,"r":0.95,"q":0.13},
{"s":"B","e":19.6,"w":0.05,"c":0.109,"d":0.014,"r":1.18,"q":0.13},
{"s":"B","e":10.1,"w":0.05,"c":0.337,"d":0.03,"r":0.97,"q":0.09},
{"s":"B","e":10.3,"w":0.05,"c":0.365,"d":0.033,"r":1.08,"q":0.09},
{"s":"B","e":10.5,"w":0.05,"c":0.296,"d":0.027,"r":0.9,"q":0.09},
{"s":"B","e":10.7,"w":0.05,"c":0.326,"d":0.029,"r":1.02,"q":0.09},
{"s":"B","e":10.9,"w":0.05,"c":0.356,"d":0.032,"r":1.14,"q":0.09},
{"s":"B","e":11.1,"w":0.05,"c":0.289,"d":0.026,"r":0.95,"q":0.09},
{"s":"B","e":11.3,"w":0.05,"c":0.315,"d":0.028,"r":1.06,"q":0.09},
{"s":"B","e":11.5,"w":0.05,"c":0.265,"d":0.024,"r":0.92,"q":0.09},
{"s":"B","e":11.7,"w":0.05,"c":0.283,"d":0.025,"r":1.01,"q":0.09},
{"s":"B","e":11.9,"w":0.05,"c":0.298,"d":0.027,"r":1.1,"q":0.09},
{"s":"B","e":12.1,"w":0.05,"c":0.234,"d":0.021,"r":0.89,"q":0.09},
{"s":"B","e":12.3,"w":0.05,"c":0.269,"d":0.024,"r":1.05,"q":0.09},
{"s":"B","e":12.5,"w":0.05,"c":0.238,"d":0.021,"r":0.96,"q":0.09},
{"s":"B","e":12.7,"w":0.05,"c":0.275,"d":0.025,"r":1.14,"q":0.09},
{"s":"B","e":12.9,"w":0.05,"c":0.214,"d":0.019,"r":0.91,"q":0.09},
{"s":"B","e":13.1,"w":0.05,"c":0.236,"d":0.021,"r":1.03,"q":0.09},
{"s":"B","e":13.3,"w":0.05,"c":0.25,"d":0.023,"r":1.12,"q":0.09},
{"s":"B","e":13.5,"w":0.05,"c":0.196,"d":0.018,"r":0.9,"q":0.09},
{"s":"B","e":13.7,"w":0.05,"c":0.22,"d":0.02,"r":1.04,"q":0.09},
{"s":"B","e":13.9,"w":0.05,"c":0.198,"d":0.018,"r":0.95,"q":0.09},
{"s":"B","e":14.1,"w":0.05,"c":0.225,"d":0.025,"r":1.11,"q":0.11},
{"s":"B","e":14.3,"w":0.05,"c":0.181,"d":0.02,"r":0.92,"q":0.11},
{"s":"B","e":14.5,"w":0.05,"c":0.227,"d":0.025,"r":1.18,"q":0.11},
{"s":"B","e":14.7,"w":0.05,"c":0.165,"d":0.018,"r":0.88,"q":0.11},
{"s":"B","e":14.9,"w":0.05,"c":0.192,"d":0.021,"r":1.05,"q":0.11},
{"s":"B","e":15.1,"w":0.05,"c":0.175,"d":0.019,"r":0.99,"q":0.11},
{"s":"B","e":15.3,"w":0.05,"c":0.199,"d":0.022,"r":1.15,"q":0.11},
{"s":"B","e":15.5,"w":0.05,"c":0.154,"d":0.017,"r":0.92,"q":0.11},
{"s":"B","e":15.7,"w":0.05,"c":0.2,"d":0.022,"r":1.23,"q":0.11},
{"s":"B","e":15.9,"w":0.05,"c":0.149,"d":0.016,"r":0.94,"q":0.11},
{"s":"B","e":16.1,"w":0.05,"c":0.166,"d":0.018,"r":1.08,"q":0.11},
{"s":"B","e":16.3,"w":0.05,"c":0.127,"d":0.014,"r":0.85,"q":0.11},
{"s":"B","e":16.5,"w":0.05,"c":0.164,"d":0.018,"r":1.13,"q":0.11},
{"s":"B","e":16.7,"w":0.05,"c":0.137,"d":0.015,"r":0.97,"q":0.11},
{"s":"B","e":16.9,"w":0.05,"c":0.164,"d":0.018,"r":1.2,"q":0.11},
{"s":"B","e":17.1,"w":0.05,"c":0.12,"d":0.016,"r":0.9,"q":0.13},
{"s":"B","e":17.3,"w":0.05,"c":0.138,"d":0.018,"r":1.06,"q":0.13},
{"s":"B","e":17.5,"w":0.05,"c":0.101,"d":0.013,"r":0.8,"q":0.13},
{"s":"B","e":17.7,"w":0.05,"c":0.144,"d":0.019,"r":1.18,"q":0.13},
{"s":"B","e":17.9,"w":0.05,"c":0.111,"d":0.014,"r":0.93,"q":0.13},
{"s":"B","e":18.1,"w":0.05,"c":0.127,"d":0.017,"r":1.1,"q":0.13},
{"s":"B","e":18.3,"w":0.05,"c":0.093,"d":0.012,"r":0.83,"q":0.13},
{"s":"B","e":18.5,"w":0.05,"c":0.139,"d":0.018,"r":1.29,"q":0.13},
{"s":"B","e":18.7,"w":0.05,"c":0.105,"d":0.014,"r":1.0,"q":0.13},
{"s":"B","e":18.9,"w":0.05,"c":0.088,"d":0.011,"r":0.85,"q":0.13},
{"s":"B","e":19.1,"w":0.05,"c":0.115,"d":0.015,"r":1.16,"q":0.13},
{"s":"B","e":19.3,"w":0.05,"c":0.088,"d":0.011,"r":0.92,"q":0.13},
{"s":"B","e":19.5,"w":0.05,"c":0.13,"d":0.017,"r":1.38,"q":0.13},
{"s":"B","e":19.7,"w":0.05,"c":0.089,"d":0.012,"r":0.98,"q":0.13},
{"s":"G","e":3.03,"w":0.025,"c":0.507,"d":0.02,"r":0.86,"q":0.04},
{"s":"G","e":3.07,"w":0.025,"c":0.45,"d":0.018,"r":0.9,"q":0.04},
{"s":"G","e":3.12,"w":0.025,"c":0.575,"d":0.023,"r":1.15,"q":0.04},
{"s":"G","e":3.16,"w":0.025,"c":0.548,"d":0.022,"r":1.095,"q":0.04},
{"s":"G","e":3.2,"w":0.025,"c":0.525,"d":0.021,"r":1.05,"q":0.04},
{"s":"G","e":3.24,"w":0.025,"c":0.49,"d":0.02,"r":0.98,"q":0.04},
{"s":"G","e":3.29,"w":0.025,"c":0.505,"d":0.02,"r":1.01,"q":0.04},
{"s":"G","e":3.36,"w":0.025,"c":0.515,"d":0.021,"r":1.03,"q":0.04},
{"s":"G","e":3.41,"w":0.025,"c":0.48,"d":0.019,"r":0.96,"q":0.04},
{"s":"G","e":3.46,"w":0.025,"c":0.48,"d":0.019,"r":0.905,"q":0.04},
{"s":"G","e":3.51,"w":0.025,"c":0.541,"d":0.022,"r":1.02,"q":0.04},
{"s":"G","e":3.56,"w":0.025,"c":0.535,"d":0.021,"r":1.01,"q":0.04},
{"s":"G","e":3.61,"w":0.025,"c":0.567,"d":0.023,"r":1.07,"q":0.04},
{"s":"G","e":3.67,"w":0.025,"c":0.527,"d":0.021,"r":0.995,"q":0.04},
{"s":"G","e":3.73,"w":0.025,"c":0.519,"d":0.021,"r":0.98,"q":0.04},
{"s":"G","e":3.79,"w":0.025,"c":0.535,"d":0.021,"r":1.01,"q":0.04},
{"s":"G","e":3.85,"w":0.025,"c":0.514,"d":0.021,"r":0.97,"q":0.04},
{"s":"G","e":3.91,"w":0.025,"c":0.53,"d":0.021,"r":1.0,"q":0.04},
{"s":"G","e":3.96,"w":0.025,"c":0.48,"d":0.019,"r":0.905,"q":0.04},
{"s":"G","e":4.02,"w":0.03,"c":0.542,"d":0.022,"r":0.995,"q":0.04},
{"s":"G","e":4.08,"w":0.03,"c":0.545,"d":0.022,"r":1.0,"q":0.04},
{"s":"G","e":4.15,"w":0.03,"c":0.55,"d":0.022,"r":1.01,"q":0.04},
{"s":"G","e":4.22,"w":0.03,"c":0.501,"d":0.02,"r":0.92,"q":0.04},
{"s":"G","e":4.28,"w":0.03,"c":0.501,"d":0.02,"r":0.92,"q":0.04},
{"s":"G","e":4.35,"w":0.03,"c":0.567,"d":0.023,"r":1.04,"q":0.04},
{"s":"G","e":4.41,"w":0.03,"c":0.561,"d":0.022,"r":1.03,"q":0.04},
{"s":"G","e":4.47,"w":0.03,"c":0.469,"d":0.019,"r":0.86,"q":0.04},
{"s":"G","e":4.55,"w":0.03,"c":0.534,"d":0.021,"r":0.98,"q":0.04},
{"s":"G","e":4.63,"w":0.03,"c":0.542,"d":0.022,"r":0.995,"q":0.04},
{"s":"G","e":4.7,"w":0.03,"c":0.523,"d":0.021,"r":0.96,"q":0.04},
{"s":"G","e":4.77,"w":0.03,"c":0.507,"d":0.02,"r":0.93,"q":0.04},
{"s":"G","e":4.84,"w":0.03,"c":0.544,"d":0.022,"r":0.98,"q":0.04},
{"s":"G","e":4.96,"w":0.04,"c":0.561,"d":0.022,"r":1.01,"q":0.04},
{"s":"G","e":5.05,"w":0.04,"c":0.544,"d":0.022,"r":0.98,"q":0.04},
{"s":"G","e":5.14,"w":0.04,"c":0.52,"d":0.021,"r":0.905,"q":0.04},
{"s":"G","e":5.21,"w":0.04,"c":0.494,"d":0.02,"r":0.83,"q":0.04},
{"s":"G","e":5.3,"w":0.04,"c":0.547,"d":0.022,"r":0.92,"q":0.04},
{"s":"G","e":5.4,"w":0.04,"c":0.571,"d":0.023,"r":0.96,"q":0.04},
{"s":"G","e":5.49,"w":0.04,"c":0.571,"d":0.023,"r":0.96,"q":0.04},
{"s":"G","e":5.62,"w":0.04,"c":0.503,"d":0.02,"r":0.86,"q":0.04},
{"s":"G","e":5.75,"w":0.04,"c":0.618,"d":0.025,"r":1.03,"q":0.04},
{"s":"G","e":5.84,"w":0.04,"c":0.636,"d":0.025,"r":1.01,"q":0.04},
{"s":"G","e":5.93,"w":0.04,"c":0.64,"d":0.026,"r":0.985,"q":0.04},
{"s":"G","e":6.01,"w":0.04,"c":0.616,"d":0.025,"r":0.92,"q":0.04},
{"s":"G","e":6.13,"w":0.04,"c":0.618,"d":0.025,"r":0.87,"q":0.04},
{"s":"G","e":6.22,"w":0.03,"c":0.665,"d":0.02,"r":0.905,"q":0.03},
{"s":"G","e":6.29,"w":0.03,"c":0.81,"d":0.024,"r":1.08,"q":0.03},
{"s":"G","e":6.34,"w":0.03,"c":0.99,"d":0.03,"r":1.32,"q":0.03},
{"s":"G","e":6.42,"w":0.03,"c":1.148,"d":0.034,"r":1.53,"q":0.03},
{"s":"G","e":6.47,"w":0.03,"c":1.066,"d":0.032,"r":1.44,"q":0.03},
{"s":"G","e":6.55,"w":0.03,"c":0.873,"d":0.026,"r":1.23,"q":0.03},
{"s":"G","e":6.66,"w":0.03,"c":0.657,"d":0.02,"r":0.995,"q":0.03},
{"s":"G","e":6.74,"w":0.03,"c":0.68,"d":0.02,"r":1.08,"q":0.03},
{"s":"G","e":6.86,"w":0.03,"c":0.656,"d":0.02,"r":1.14,"q":0.03},
{"s":"G","e":6.93,"w":0.03,"c":0.725,"d":0.022,"r":1.33,"q":0.03},
{"s":"G","e":7.06,"w":0.03,"c":0.617,"d":0.019,"r":1.26,"q":0.03},
{"s":"G","e":7.13,"w":0.03,"c":0.639,"d":0.019,"r":1.39,"q":0.03},
{"s":"G","e":7.2,"w":0.03,"c":0.499,"d":0.02,"r":1.16,"q":0.04},
{"s":"G","e":7.3,"w":0.05,"c":0.404,"d":0.016,"r":1.01,"q":0.04},
{"s":"G","e":7.41,"w":0.05,"c":0.356,"d":0.018,"r":0.95,"q":0.05},
{"s":"G","e":7.53,"w":0.05,"c":0.321,"d":0.016,"r":0.905,"q":0.05},
{"s":"G","e":7.64,"w":0.05,"c":0.33,"d":0.017,"r":0.97,"q":0.05},
{"s":"G","e":7.76,"w":0.05,"c":0.307,"d":0.015,"r":0.96,"q":0.05},
{"s":"G","e":7.86,"w":0.05,"c":0.288,"d":0.014,"r":0.93,"q":0.05},
{"s":"G","e":7.96,"w":0.05,"c":0.303,"d":0.015,"r":1.01,"q":0.05},
{"s":"G","e":8.06,"w":0.05,"c":0.274,"d":0.014,"r":0.94,"q":0.05},
{"s":"G","e":8.16,"w":0.05,"c":0.281,"d":0.014,"r":0.99,"q":0.05},
{"s":"G","e":8.27,"w":0.05,"c":0.267,"d":0.013,"r":0.98,"q":0.05},
{"s":"G","e":8.37,"w":0.05,"c":0.23,"d":0.012,"r":0.87,"q":0.05},
{"s":"G","e":8.46,"w":0.05,"c":0.247,"d":0.012,"r":0.96,"q":0.05},
{"s":"G","e":8.55,"w":0.05,"c":0.266,"d":0.013,"r":1.07,"q":0.05},
{"s":"G","e":8.67,"w":0.05,"c":0.228,"d":0.011,"r":0.95,"q":0.05},
{"s":"G","e":8.8,"w":0.05,"c":0.232,"d":0.012,"r":1.01,"q":0.05},
{"s":"G","e":8.94,"w":0.05,"c":0.264,"d":0.016,"r":1.21,"q":0.06},
{"s":"G","e":9.06,"w":0.05,"c":0.219,"d":0.013,"r":1.05,"q":0.06},
{"s":"G","e":9.15,"w":0.05,"c":0.188,"d":0.011,"r":0.93,"q":0.06},
{"s":"G","e":9.24,"w":0.05,"c":0.236,"d":0.014,"r":1.21,"q":0.06},
{"s":"G","e":9.36,"w":0.05,"c":0.167,"d":0.01,"r":0.9,"q":0.06},
{"s":"G","e":9.48,"w":0.05,"c":0.184,"d":0.011,"r":1.04,"q":0.06},
{"s":"G","e":9.54,"w":0.05,"c":0.206,"d":0.012,"r":1.19,"q":0.06},
{"s":"G","e":9.63,"w":0.05,"c":0.154,"d":0.009,"r":0.92,"q":0.06},
{"s":"G","e":9.72,"w":0.05,"c":0.155,"d":0.011,"r":0.97,"q":0.07},
{"s":"G","e":9.79,"w":0.05,"c":0.133,"d":0.009,"r":0.85,"q":0.07},
{"s":"G","e":9.84,"w":0.05,"c":0.153,"d":0.011,"r":1.0,"q":0.07},
{"s":"U","e":3.04,"w":0.025,"c":0.503,"d":0.02,"r":0.89,"q":0.04},
{"s":"U","e":3.1,"w":0.025,"c":0.505,"d":0.02,"r":0.99,"q":0.04},
{"s":"U","e":3.14,"w":0.025,"c":0.576,"d":0.023,"r":1.13,"q":0.04},
{"s":"U","e":3.19,"w":0.025,"c":0.52,"d":0.021,"r":1.02,"q":0.04},
{"s":"U","e":3.24,"w":0.025,"c":0.52,"d":0.021,"r":1.02,"q":0.04},
{"s":"U","e":3.28,"w":0.025,"c":0.51,"d":0.02,"r":1.0,"q":0.04},
{"s":"U","e":3.33,"w":0.025,"c":0.507,"d":0.02,"r":0.995,"q":0.04},
{"s":"U","e":3.38,"w":0.025,"c":0.502,"d":0.02,"r":0.985,"q":0.04},
{"s":"U","e":3.44,"w":0.025,"c":0.572,"d":0.023,"r":1.05,"q":0.04},
{"s":"U","e":3.5,"w":0.025,"c":0.512,"d":0.02,"r":0.94,"q":0.04},
{"s":"U","e":3.55,"w":0.025,"c":0.534,"d":0.021,"r":0.98,"q":0.04},
{"s":"U","e":3.6,"w":0.025,"c":0.572,"d":0.023,"r":1.05,"q":0.04},
{"s":"U","e":3.65,"w":0.025,"c":0.545,"d":0.022,"r":1.0,"q":0.04},
{"s":"U","e":3.69,"w":0.025,"c":0.561,"d":0.022,"r":1.03,"q":0.04},
{"s":"U","e":3.75,"w":0.025,"c":0.501,"d":0.02,"r":0.92,"q":0.04},
{"s":"U","e":3.8,"w":0.025,"c":0.534,"d":0.021,"r":0.98,"q":0.04},
{"s":"U","e":3.84,"w":0.025,"c":0.542,"d":0.022,"r":0.995,"q":0.04},
{"s":"U","e":3.9,"w":0.025,"c":0.529,"d":0.021,"r":0.97,"q":0.04},
{"s":"U","e":3.95,"w":0.025,"c":0.518,"d":0.021,"r":0.95,"q":0.04},
{"s":"U","e":4.02,"w":0.03,"c":0.557,"d":0.022,"r":0.995,"q":0.04},
{"s":"U","e":4.06,"w":0.03,"c":0.532,"d":0.021,"r":0.95,"q":0.04},
{"s":"U","e":4.12,"w":0.03,"c":0.582,"d":0.023,"r":1.04,"q":0.04},
{"s":"U","e":4.18,"w":0.03,"c":0.521,"d":0.021,"r":0.93,"q":0.04},
{"s":"U","e":4.22,"w":0.03,"c":0.521,"d":0.021,"r":0.93,"q":0.04},
{"s":"U","e":4.28,"w":0.03,"c":0.549,"d":0.022,"r":0.98,"q":0.04},
{"s":"U","e":4.34,"w":0.03,"c":0.521,"d":0.021,"r":0.93,"q":0.04},
{"s":"U","e":4.4,"w":0.03,"c":0.549,"d":0.022,"r":0.98,"q":0.04},
{"s":"U","e":4.47,"w":0.03,"c":0.557,"d":0.022,"r":0.995,"q":0.04},
{"s":"U","e":4.51,"w":0.03,"c":0.493,"d":0.02,"r":0.88,"q":0.04},
{"s":"U","e":4.55,"w":0.03,"c":0.549,"d":0.022,"r":0.98,"q":0.04},
{"s":"U","e":4.62,"w":0.03,"c":0.577,"d":0.023,"r":1.03,"q":0.04},
{"s":"U","e":4.69,"w":0.03,"c":0.515,"d":0.021,"r":0.92,"q":0.04},
{"s":"U","e":4.77,"w":0.03,"c":0.515,"d":0.021,"r":0.92,"q":0.04},
{"s":"U","e":4.84,"w":0.03,"c":0.49,"d":0.02,"r":0.86,"q":0.04},
{"s":"U","e":4.91,"w":0.03,"c":0.553,"d":0.022,"r":0.97,"q":0.04},
{"s":"U","e":4.95,"w":0.03,"c":0.524,"d":0.021,"r":0.92,"q":0.04},
{"s":"U","e":5.04,"w":0.04,"c":0.524,"d":0.021,"r":0.92,"q":0.04},
{"s":"U","e":5.11,"w":0.04,"c":0.549,"d":0.022,"r":0.93,"q":0.04},
{"s":"U","e":5.18,"w":0.04,"c":0.534,"d":0.021,"r":0.905,"q":0.04},
{"s":"U","e":5.24,"w":0.04,"c":0.531,"d":0.021,"r":0.87,"q":0.04},
{"s":"U","e":5.35,"w":0.04,"c":0.552,"d":0.022,"r":0.905,"q":0.04},
{"s":"U","e":5.43,"w":0.04,"c":0.561,"d":0.022,"r":0.92,"q":0.04},
{"s":"U","e":5.49,"w":0.04,"c":0.555,"d":0.022,"r":0.91,"q":0.04},
{"s":"U","e":5.57,"w":0.04,"c":0.552,"d":0.022,"r":0.92,"q":0.04},
{"s":"U","e":5.65,"w":0.04,"c":0.534,"d":0.021,"r":0.89,"q":0.04},
{"s":"U","e":5.76,"w":0.04,"c":0.608,"d":0.024,"r":0.98,"q":0.04},
{"s":"U","e":5.86,"w":0.04,"c":0.637,"d":0.025,"r":0.98,"q":0.04},
{"s":"U","e":5.93,"w":0.04,"c":0.623,"d":0.025,"r":0.93,"q":0.04},
{"s":"U","e":5.99,"w":0.04,"c":0.624,"d":0.025,"r":0.905,"q":0.04},
{"s":"U","e":6.05,"w":0.04,"c":0.643,"d":0.026,"r":0.905,"q":0.04},
{"s":"U","e":6.13,"w":0.04,"c":0.595,"d":0.024,"r":0.815,"q":0.04},
{"s":"U","e":6.2,"w":0.03,"c":0.69,"d":0.021,"r":0.92,"q":0.03},
{"s":"U","e":6.26,"w":0.03,"c":0.734,"d":0.022,"r":0.96,"q":0.03},
{"s":"U","e":6.31,"w":0.03,"c":0.893,"d":0.027,"r":1.16,"q":0.03},
{"s":"U","e":6.375,"w":0.03,"c":1.086,"d":0.033,"r":1.41,"q":0.03},
{"s":"U","e":6.45,"w":0.03,"c":1.178,"d":0.035,"r":1.53,"q":0.03},
{"s":"U","e":6.52,"w":0.03,"c":1.056,"d":0.032,"r":1.39,"q":0.03},
{"s":"U","e":6.57,"w":0.03,"c":0.838,"d":0.025,"r":1.14,"q":0.03},
{"s":"U","e":6.64,"w":0.03,"c":0.735,"d":0.022,"r":1.05,"q":0.03},
{"s":"U","e":6.71,"w":0.03,"c":0.683,"d":0.021,"r":1.02,"q":0.03},
{"s":"U","e":6.8,"w":0.03,"c":0.68,"d":0.02,"r":1.08,"q":0.03},
{"s":"U","e":6.85,"w":0.03,"c":0.668,"d":0.02,"r":1.095,"q":0.03},
{"s":"U","e":6.91,"w":0.03,"c":0.679,"d":0.02,"r":1.17,"q":0.03},
{"s":"U","e":6.98,"w":0.03,"c":0.776,"d":0.023,"r":1.41,"q":0.03},
{"s":"U","e":7.02,"w":0.03,"c":0.747,"d":0.022,"r":1.41,"q":0.03},
{"s":"U","e":7.09,"w":0.03,"c":0.66,"d":0.02,"r":1.32,"q":0.03},
{"s":"U","e":7.16,"w":0.03,"c":0.57,"d":0.017,"r":1.24,"q":0.03},
{"s":"U","e":7.23,"w":0.03,"c":0.452,"d":0.018,"r":1.05,"q":0.04},
{"s":"U","e":7.36,"w":0.05,"c":0.353,"d":0.018,"r":0.905,"q":0.05},
{"s":"U","e":7.48,"w":0.05,"c":0.354,"d":0.018,"r":0.97,"q":0.05},
{"s":"U","e":7.58,"w":0.05,"c":0.361,"d":0.018,"r":1.03,"q":0.05},
{"s":"U","e":7.7,"w":0.05,"c":0.294,"d":0.015,"r":0.89,"q":0.05},
{"s":"U","e":7.81,"w":0.05,"c":0.312,"d":0.016,"r":0.98,"q":0.05},
{"s":"U","e":7.92,"w":0.05,"c":0.3,"d":0.015,"r":0.97,"q":0.05},
{"s":"U","e":8.02,"w":0.05,"c":0.303,"d":0.015,"r":1.01,"q":0.05},
{"s":"U","e":8.12,"w":0.05,"c":0.299,"d":0.015,"r":1.03,"q":0.05},
{"s":"U","e":8.2,"w":0.05,"c":0.296,"d":0.015,"r":1.05,"q":0.05},
{"s":"U","e":8.29,"w":0.05,"c":0.285,"d":0.014,"r":1.04,"q":0.05},
{"s":"U","e":8.38,"w":0.05,"c":0.27,"d":0.014,"r":1.01,"q":0.05},
{"s":"U","e":8.47,"w":0.05,"c":0.273,"d":0.014,"r":1.05,"q":0.05},
{"s":"U","e":8.6,"w":0.05,"c":0.253,"d":0.013,"r":1.01,"q":0.05},
{"s":"U","e":8.68,"w":0.05,"c":0.26,"d":0.013,"r":1.07,"q":0.05},
{"s":"U","e":8.75,"w":0.05,"c":0.246,"d":0.012,"r":1.04,"q":0.05},
{"s":"U","e":8.85,"w":0.05,"c":0.222,"d":0.011,"r":0.97,"q":0.05},
{"s":"U","e":8.94,"w":0.05,"c":0.253,"d":0.015,"r":1.14,"q":0.06},
{"s":"U","e":9.01,"w":0.05,"c":0.218,"d":0.013,"r":1.01,"q":0.06},
{"s":"U","e":9.09,"w":0.05,"c":0.201,"d":0.012,"r":0.96,"q":0.06},
{"s":"U","e":9.17,"w":0.05,"c":0.238,"d":0.014,"r":1.17,"q":0.06},
{"s":"U","e":9.28,"w":0.05,"c":0.211,"d":0.013,"r":1.08,"q":0.06},
{"s":"U","e":9.4,"w":0.05,"c":0.184,"d":0.011,"r":0.995,"q":0.06},
{"s":"U","e":9.51,"w":0.05,"c":0.196,"d":0.012,"r":1.11,"q":0.06},
{"s":"U","e":9.58,"w":0.05,"c":0.189,"d":0.011,"r":1.1,"q":0.06},
{"s":"U","e":9.65,"w":0.05,"c":0.192,"d":0.012,"r":1.15,"q":0.06},
{"s":"U","e":9.76,"w":0.05,"c":0.149,"d":0.01,"r":0.93,"q":0.07},
{"s":"U","e":9.86,"w":0.05,"c":0.176,"d":0.012,"r":1.14,"q":0.07}
]
},
"vconcat": [
{
 "width": 1310, "height": 502,
 "resolve": {"axis": {"x": "independent", "y": "independent"}},
 "layer": [
  {"data": {"name": "mdl"}, "transform": [{"filter": "datum.s == 'A' || datum.s == 'B'"}],
   "mark": {"type": "line", "strokeWidth": 2.5, "clip": true},
   "encoding": {
    "x": {"field": "e", "type": "quantitative", "scale": {"type": "log", "domain": [2.987, 19.8], "nice": false}, "axis": null},
    "y": {"field": "m", "type": "quantitative", "scale": {"type": "log", "domain": [0.0692, 1.209], "nice": false}, "axis": null},
    "color": {"field": "s", "type": "nominal", "scale": {"domain": ["A","B","G","U"], "range": ["#000000","#ff0000","#33ee33","#0000ff"]}, "legend": null}}},
  {"data": {"name": "pts"}, "mark": {"type": "errorbar", "thickness": 3, "clip": true},
   "encoding": {
    "x": {"field": "e", "type": "quantitative", "scale": {"type": "log", "domain": [2.987, 19.8], "nice": false}, "axis": null},
    "y": {"field": "c", "type": "quantitative", "scale": {"type": "log", "domain": [0.0692, 1.209], "nice": false}, "axis": null},
    "yError": {"field": "d"},
    "color": {"field": "s", "type": "nominal", "scale": {"domain": ["A","B","G","U"], "range": ["#000000","#ff0000","#33ee33","#0000ff"]}, "legend": null}}},
  {"data": {"name": "pts"}, "mark": {"type": "errorbar", "thickness": 2.5, "clip": true},
   "encoding": {
    "x": {"field": "e", "type": "quantitative", "scale": {"type": "log", "domain": [2.987, 19.8], "nice": false}, "axis": null},
    "xError": {"field": "w"},
    "y": {"field": "c", "type": "quantitative", "scale": {"type": "log", "domain": [0.0692, 1.209], "nice": false}, "axis": null},
    "color": {"field": "s", "type": "nominal", "scale": {"domain": ["A","B","G","U"], "range": ["#000000","#ff0000","#33ee33","#0000ff"]}, "legend": null}}},
  {"data": {"name": "mdl"}, "transform": [{"filter": "datum.s == 'G' || datum.s == 'U'"}],
   "mark": {"type": "line", "strokeWidth": 2.5, "interpolate": "step-after", "clip": true},
   "encoding": {
    "x": {"field": "e", "type": "quantitative", "scale": {"type": "log", "domain": [2.987, 19.8], "nice": false}, "axis": null},
    "y": {"field": "m", "type": "quantitative", "scale": {"type": "log", "domain": [0.0692, 1.209], "nice": false}, "axis": null},
    "color": {"field": "s", "type": "nominal", "scale": {"domain": ["A","B","G","U"], "range": ["#000000","#ff0000","#33ee33","#0000ff"]}, "legend": null}}},
  {"data": {"name": "lbl"}, "mark": {"type": "text", "font": "Liberation Sans", "fontSize": 31, "align": "left", "baseline": "middle"},
   "encoding": {
    "x": {"field": "e", "type": "quantitative", "scale": {"type": "log", "domain": [2.987, 19.8], "nice": false}, "axis": null},
    "y": {"field": "c", "type": "quantitative", "scale": {"type": "log", "domain": [0.0692, 1.209], "nice": false}, "axis": null},
    "text": {"field": "t"},
    "color": {"field": "s", "type": "nominal", "scale": {"domain": ["A","B","G","U"], "range": ["#000000","#ff0000","#33ee33","#0000ff"]}, "legend": null}}},
  {"data": {"name": "lbl2"}, "mark": {"type": "text", "font": "Liberation Sans", "fontSize": 45, "align": "left", "baseline": "middle", "color": "#000000"},
   "encoding": {
    "x": {"field": "e", "type": "quantitative", "scale": {"type": "log", "domain": [2.987, 19.8], "nice": false}, "axis": null},
    "y": {"field": "c", "type": "quantitative", "scale": {"type": "log", "domain": [0.0692, 1.209], "nice": false}, "axis": null},
    "text": {"field": "t"}}},
  {"data": {"name": "ax"}, "mark": {"type": "point", "opacity": 0},
   "encoding": {
    "x": {"field": "e", "type": "quantitative", "scale": {"type": "log", "domain": [2.987, 19.8], "nice": false}, "axis": {"orient": "bottom", "values": [5, 10], "labels": false, "tickSize": -12, "title": null}},
    "y": {"field": "c", "type": "quantitative", "scale": {"type": "log", "domain": [0.0692, 1.209], "nice": false}, "axis": {"orient": "left", "values": [0.1, 0.2, 0.5, 1], "format": "~g", "tickSize": -15, "labelPadding": 33, "title": "counts s⁻¹ keV⁻¹", "titlePadding": 80, "titleY": 241}}}},
  {"data": {"name": "ax"}, "mark": {"type": "point", "opacity": 0},
   "encoding": {
    "x": {"field": "e", "type": "quantitative", "scale": {"type": "log", "domain": [2.987, 19.8], "nice": false}, "axis": {"orient": "bottom", "values": [3, 4, 6, 7, 8, 9], "labels": false, "tickSize": -7, "title": null}},
    "y": {"field": "c", "type": "quantitative", "scale": {"type": "log", "domain": [0.0692, 1.209], "nice": false}, "axis": {"orient": "left", "values": [0.07, 0.08, 0.09, 0.3, 0.4, 0.6, 0.7, 0.8, 0.9], "labels": false, "tickSize": -7, "title": null}}}},
  {"data": {"name": "ax"}, "mark": {"type": "point", "opacity": 0},
   "encoding": {
    "x": {"field": "e", "type": "quantitative", "scale": {"type": "log", "domain": [2.987, 19.8], "nice": false}, "axis": {"orient": "top", "values": [5, 10], "labels": false, "tickSize": -12, "title": null}},
    "y": {"field": "c", "type": "quantitative", "scale": {"type": "log", "domain": [0.0692, 1.209], "nice": false}, "axis": {"orient": "right", "values": [0.1, 0.2, 0.5, 1], "labels": false, "tickSize": -15, "title": null}}}},
  {"data": {"name": "ax"}, "mark": {"type": "point", "opacity": 0},
   "encoding": {
    "x": {"field": "e", "type": "quantitative", "scale": {"type": "log", "domain": [2.987, 19.8], "nice": false}, "axis": {"orient": "top", "values": [3, 4, 6, 7, 8, 9], "labels": false, "tickSize": -7, "title": null}},
    "y": {"field": "c", "type": "quantitative", "scale": {"type": "log", "domain": [0.0692, 1.209], "nice": false}, "axis": {"orient": "right", "values": [0.07, 0.08, 0.09, 0.3, 0.4, 0.6, 0.7, 0.8, 0.9], "labels": false, "tickSize": -7, "title": null}}}}
 ]
},
{
 "width": 1310, "height": 303,
 "resolve": {"axis": {"x": "independent", "y": "independent"}},
 "layer": [
  {"data": {"name": "pts"}, "mark": {"type": "errorbar", "thickness": 3, "clip": true},
   "encoding": {
    "x": {"field": "e", "type": "quantitative", "scale": {"type": "log", "domain": [2.987, 19.8], "nice": false}, "axis": null},
    "y": {"field": "r", "type": "quantitative", "scale": {"domain": [0.737, 1.559], "nice": false, "zero": false}, "axis": null},
    "yError": {"field": "q"},
    "color": {"field": "s", "type": "nominal", "scale": {"domain": ["A","B","G","U"], "range": ["#000000","#ff0000","#33ee33","#0000ff"]}, "legend": null}}},
  {"data": {"name": "pts"}, "mark": {"type": "errorbar", "thickness": 2.5, "clip": true},
   "encoding": {
    "x": {"field": "e", "type": "quantitative", "scale": {"type": "log", "domain": [2.987, 19.8], "nice": false}, "axis": null},
    "xError": {"field": "w"},
    "y": {"field": "r", "type": "quantitative", "scale": {"domain": [0.737, 1.559], "nice": false, "zero": false}, "axis": null},
    "color": {"field": "s", "type": "nominal", "scale": {"domain": ["A","B","G","U"], "range": ["#000000","#ff0000","#33ee33","#0000ff"]}, "legend": null}}},
  {"data": {"name": "one"}, "mark": {"type": "rule", "color": "#33ee33", "strokeWidth": 2.5},
   "encoding": {
    "y": {"field": "r", "type": "quantitative", "scale": {"domain": [0.737, 1.559], "nice": false, "zero": false}, "axis": null}}},
  {"data": {"name": "ax"}, "mark": {"type": "point", "opacity": 0},
   "encoding": {
    "x": {"field": "e", "type": "quantitative", "scale": {"type": "log", "domain": [2.987, 19.8], "nice": false}, "axis": {"orient": "bottom", "values": [5, 10], "format": "d", "tickSize": -12, "labelPadding": 22, "title": "Energy (keV)", "titlePadding": 10}},
    "y": {"field": "r", "type": "quantitative", "scale": {"domain": [0.737, 1.559], "nice": false, "zero": false}, "axis": {"orient": "left", "values": [0.8, 1, 1.2, 1.4], "format": "~g", "tickSize": -15, "labelPadding": 33, "title": "ratio", "titlePadding": 80}}}},
  {"data": {"name": "ax"}, "mark": {"type": "point", "opacity": 0},
   "encoding": {
    "x": {"field": "e", "type": "quantitative", "scale": {"type": "log", "domain": [2.987, 19.8], "nice": false}, "axis": {"orient": "bottom", "values": [3, 4, 6, 7, 8, 9], "labels": false, "tickSize": -7, "title": null}},
    "y": {"field": "r", "type": "quantitative", "scale": {"domain": [0.737, 1.559], "nice": false, "zero": false}, "axis": {"orient": "left", "values": [0.9, 1.1, 1.3, 1.5], "labels": false, "tickSize": -8, "title": null}}}},
  {"data": {"name": "ax"}, "mark": {"type": "point", "opacity": 0},
   "encoding": {
    "x": {"field": "e", "type": "quantitative", "scale": {"type": "log", "domain": [2.987, 19.8], "nice": false}, "axis": {"orient": "top", "values": [5, 10], "labels": false, "tickSize": -12, "title": null}},
    "y": {"field": "r", "type": "quantitative", "scale": {"domain": [0.737, 1.559], "nice": false, "zero": false}, "axis": {"orient": "right", "values": [0.8, 1, 1.2, 1.4], "labels": false, "tickSize": -15, "title": null}}}},
  {"data": {"name": "ax"}, "mark": {"type": "point", "opacity": 0},
   "encoding": {
    "x": {"field": "e", "type": "quantitative", "scale": {"type": "log", "domain": [2.987, 19.8], "nice": false}, "axis": {"orient": "top", "values": [3, 4, 6, 7, 8, 9], "labels": false, "tickSize": -7, "title": null}},
    "y": {"field": "r", "type": "quantitative", "scale": {"domain": [0.737, 1.559], "nice": false, "zero": false}, "axis": {"orient": "right", "values": [0.9, 1.1, 1.3, 1.5], "labels": false, "tickSize": -8, "title": null}}}}
 ]
}
]
}
